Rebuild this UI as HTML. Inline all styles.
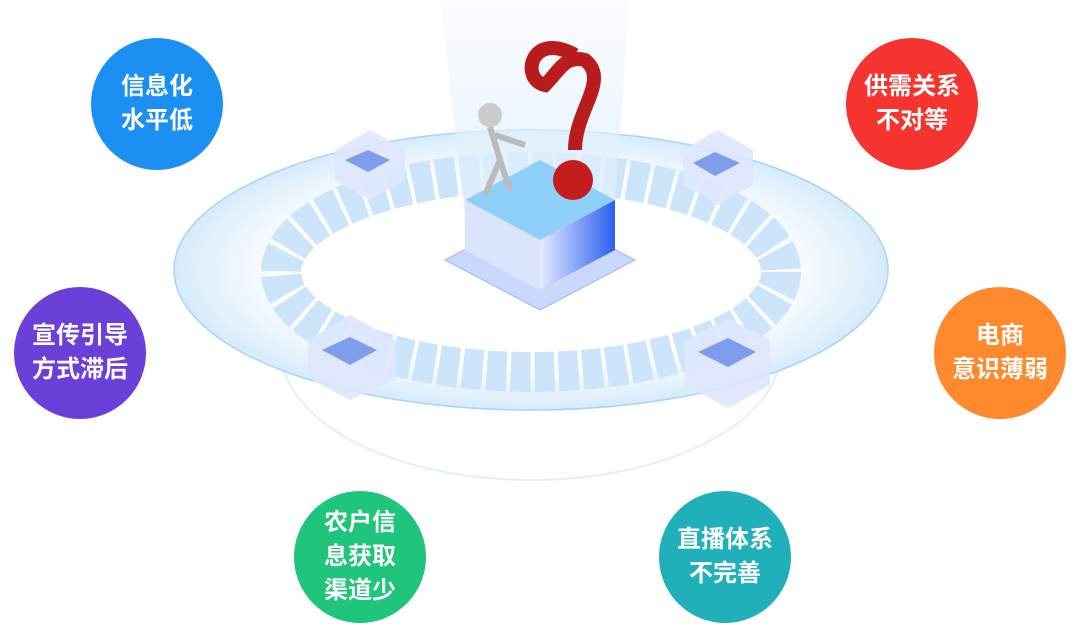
<!DOCTYPE html>
<html><head><meta charset="utf-8"><style>
body{margin:0;width:1084px;height:642px;background:#fff;overflow:hidden;position:relative;font-family:"Liberation Sans","Noto Sans CJK SC",sans-serif}
.c{position:absolute;width:132px;height:132px;border-radius:50%;color:#fff;font-size:24px;font-weight:bold;line-height:34px;display:flex;align-items:center;justify-content:center;text-align:center;}
svg{position:absolute;left:0;top:0}
</style></head><body>
<svg width="1084" height="642">
<defs>
<radialGradient id="g1" cx="50%" cy="50%" r="50%"><stop offset="0.7" stop-color="#fff"/><stop offset="1" stop-color="#d6ebfb"/></radialGradient>
<linearGradient id="beam" x1="0" y1="0" x2="0" y2="1"><stop offset="0" stop-color="#eef6fd" stop-opacity="0.3"/><stop offset="1" stop-color="#d8ecfc"/></linearGradient>
<linearGradient id="bx" x1="0" y1="0" x2="1" y2="0"><stop offset="0" stop-color="#e4eafd"/><stop offset="1" stop-color="#2a5ff0"/></linearGradient>
</defs>
<ellipse cx="531" cy="350" rx="250" ry="130" fill="none" stroke="#e3f0fb" stroke-width="2"/>
<ellipse cx="531" cy="270" rx="357" ry="140" fill="url(#g1)" stroke="#a9d4f5" stroke-width="1.5"/>
<ellipse cx="531" cy="272" rx="250" ry="100" fill="none" stroke="#cce5fb" stroke-width="40" stroke-dasharray="20 4"/>
<ellipse cx="531" cy="272" rx="172" ry="66" fill="#fff"/>
<polygon points="440,0 630,0 610,260 470,260" fill="url(#beam)"/>
<polygon points="445,260 540,210 635,260 540,310" fill="#c9d8fb" stroke="#9db7f5"/>
<polygon points="465,200 540,160 615,200 540,240" fill="#8ed0f8"/>
<polygon points="465,200 540,240 540,290 465,250" fill="#dbe4fd"/>
<polygon points="540,240 615,200 615,250 540,290" fill="url(#bx)"/>
<g fill="#dfe7fd" opacity="0.9">
<polygon points="335,150 370,130 405,150 405,180 370,200 335,180"/>
<polygon points="683,150 718,130 753,150 753,185 718,205 683,185"/>
<polygon points="308,340 350,315 395,340 395,380 350,400 308,378"/>
<polygon points="685,340 728,318 770,340 770,385 728,408 685,385"/>
</g>
<g fill="#7f9ced">
<polygon points="345,160 368,150 390,160 368,172"/>
<polygon points="693,163 715,152 740,163 715,176"/>
<polygon points="322,350 350,337 377,350 350,365"/>
<polygon points="698,352 728,338 756,352 728,367"/>
</g>
<path d="M575 55 C 530 30, 520 80, 545 85 C 560 70, 565 55, 585 60 C 610 80, 575 110, 575 150" stroke="#b81c1c" stroke-width="14" fill="none"/>
<circle cx="573" cy="180" r="20" fill="#c41d1d"/>
<circle cx="490" cy="115" r="12" fill="#ccc"/>
<path d="M490 127 L500 160 L485 195 M500 160 L510 190 M495 135 L525 145" stroke="#bbb" stroke-width="6" fill="none"/>
</svg>
<div class="c" style="left:91px;top:38px;background:#1b8ff2">信息化<br>水平低</div>
<div class="c" style="left:846px;top:38px;background:#f5342f">供需关系<br>不对等</div>
<div class="c" style="left:14px;top:287px;background:#6a40d8">宣传引导<br>方式滞后</div>
<div class="c" style="left:934px;top:287px;background:#ff8a2d">电商<br>意识薄弱</div>
<div class="c" style="left:294px;top:491px;background:#1ec57a">农户信<br>息获取<br>渠道少</div>
<div class="c" style="left:659px;top:491px;background:#1fb0b9">直播体系<br>不完善</div>
</body></html>
